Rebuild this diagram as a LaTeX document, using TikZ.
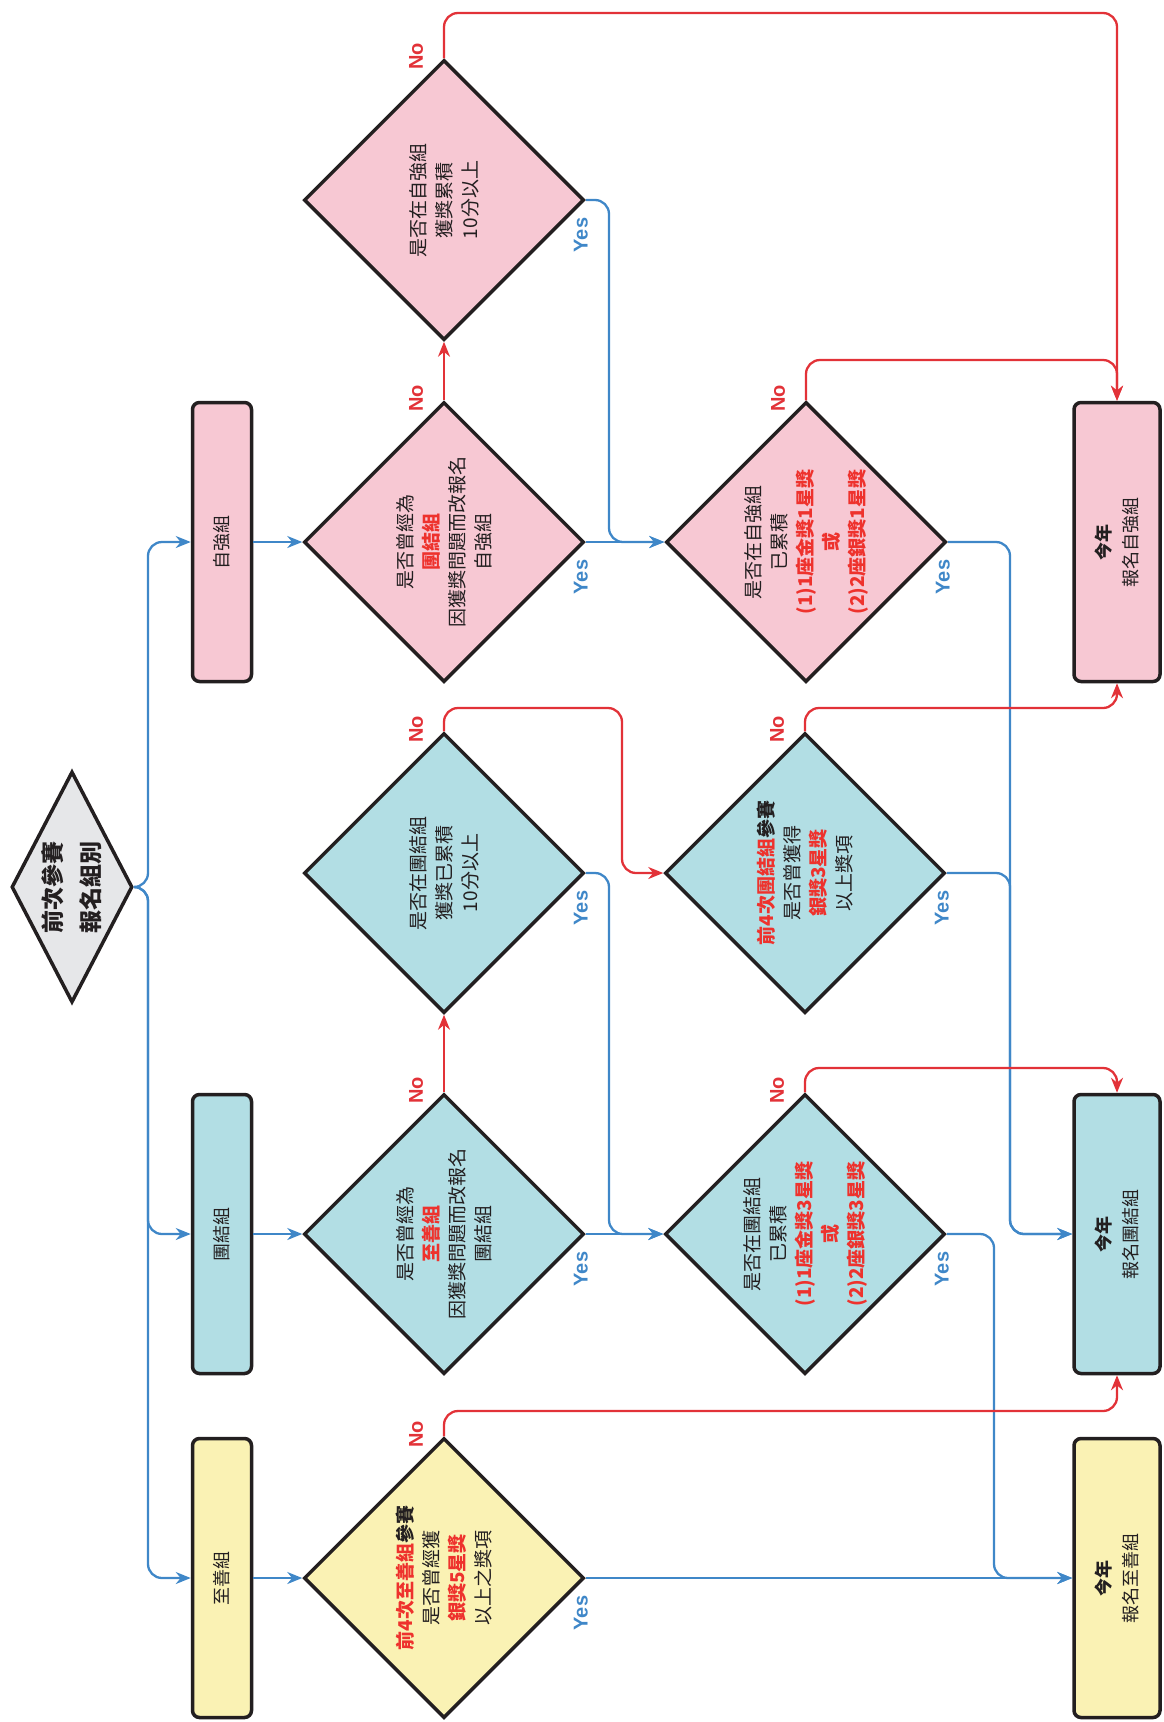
\documentclass[tikz,border=0pt]{standalone}
\usepackage{fontspec}
\setmainfont{Noto Sans CJK TC}
\newfontfamily\yesnofont{Liberation Sans}
\usetikzlibrary{shapes.geometric,arrows.meta}
\definecolor{zsfill}{RGB}{250,242,180}
\definecolor{tjfill}{RGB}{178,222,228}
\definecolor{zqfill}{RGB}{247,200,211}
\definecolor{startfill}{RGB}{230,231,233}
\definecolor{edgeblack}{RGB}{35,31,32}
\definecolor{yesblue}{RGB}{63,135,200}
\definecolor{nored}{RGB}{226,50,56}
\definecolor{hired}{RGB}{238,50,45}
\newcommand{\hl}[1]{{\bfseries\color{hired}#1}}
\tikzset{
  dec/.style={diamond, aspect=1, draw=edgeblack, line width=3.5pt, minimum width=280pt, minimum height=280pt, inner sep=0pt},
  startdec/.style={diamond, draw=edgeblack, line width=3.5pt, minimum width=121pt, minimum height=231pt, inner sep=0pt, fill=startfill},
  grpbox/.style={rectangle, rounded corners=7pt, draw=edgeblack, line width=3.5pt, minimum width=59pt, minimum height=279pt, inner sep=0pt},
  resbox/.style={rectangle, rounded corners=7pt, draw=edgeblack, line width=3.5pt, minimum width=86pt, minimum height=279pt, inner sep=0pt},
  txt/.style={rotate=90, align=center, text=edgeblack, font=\fontsize{19}{26}\selectfont},
  boxtxt/.style={rotate=90, align=center, text=edgeblack, font=\fontsize{18}{27}\selectfont},
  yesline/.style={draw=yesblue, line width=2.3pt, rounded corners=14pt},
  noline/.style={draw=nored, line width=2.3pt, rounded corners=14pt},
  arr/.style={-{Stealth[length=15pt,width=12pt]}},
  yeslab/.style={rotate=90, text=yesblue, font=\yesnofont\bfseries\fontsize{20}{20}\selectfont},
  nolab/.style={rotate=90, text=nored, font=\yesnofont\bfseries\fontsize{20}{20}\selectfont}
}
\begin{document}
\begin{tikzpicture}[x=1pt,y=-1pt]
\useasboundingbox (0,0) rectangle (1163,1722);
%%% The start node: group of the last contest
\node[startdec] (start) at (72,887) {};
\node[txt, font=\bfseries\fontsize{23}{38}\selectfont] (starttxt) at (start) {前次參賽\\報名組別};
%%%%%% The three groups of the last contest
\node[grpbox, fill=zsfill] (zsbox) at (222,1578) {};
\node[boxtxt] (zsboxtxt) at (zsbox) {至善組};
\node[grpbox, fill=tjfill] (tjbox) at (222,1234) {};
\node[boxtxt] (tjboxtxt) at (tjbox) {團結組};
\node[grpbox, fill=zqfill] (zqbox) at (222,542) {};
\node[boxtxt] (zqboxtxt) at (zqbox) {自強組};
%%%%%% The questions, first column
\node[dec, fill=zsfill] (zs1) at (444,1578) {};
\node[txt] (zs1txt) at (zs1) {\hl{前4次至善組}{\bfseries 參賽}\\是否曾經獲\\\hl{銀獎5星獎}\\以上之獎項};
\node[dec, fill=tjfill] (td1) at (444,1234) {};
\node[txt] (td1txt) at (td1) {是否曾經為\\\hl{至善組}\\因獲獎問題而改報名\\團結組};
\node[dec, fill=tjfill] (td2) at (444,873) {};
\node[txt] (td2txt) at (td2) {是否在團結組\\獲獎已累積\\10分以上};
\node[dec, fill=zqfill] (zq1) at (444,542) {};
\node[txt] (zq1txt) at (zq1) {是否曾經為\\\hl{團結組}\\因獲獎問題而改報名\\自強組};
\node[dec, fill=zqfill] (zq2) at (444,200) {};
\node[txt] (zq2txt) at (zq2) {是否在自強組\\獲獎累積\\10分以上};
%%%%%% The questions, second column
\node[dec, fill=tjfill] (td3) at (805,1234) {};
\node[txt] (td3txt) at (td3) {是否在團結組\\已累積\\\hl{(1)1座金獎3星獎}\\\hl{或}\\\hl{(2)2座銀獎3星獎}};
\node[dec, fill=tjfill] (td4) at (805,873) {};
\node[txt] (td4txt) at (td4) {\hl{前4次團結組}{\bfseries 參賽}\\是否曾獲得\\\hl{銀獎3星獎}\\以上獎項};
\node[dec, fill=zqfill] (zq3) at (806,542) {};
\node[txt] (zq3txt) at (zq3) {是否在自強組\\已累積\\\hl{(1)1座金獎1星獎}\\\hl{或}\\\hl{(2)2座銀獎1星獎}};
%%%%%% The results: group of this year
\node[resbox, fill=zsfill] (rzs) at (1117,1578) {};
\node[boxtxt] (rzstxt) at (rzs) {{\bfseries 今年}\\報名至善組};
\node[resbox, fill=tjfill] (rtd) at (1117,1234) {};
\node[boxtxt] (rtdtxt) at (rtd) {{\bfseries 今年}\\報名團結組};
\node[resbox, fill=zqfill] (rzq) at (1117,542) {};
\node[boxtxt] (rzqtxt) at (rzq) {{\bfseries 今年}\\報名自強組};
%%%%%% Bend points of the connectors
\coordinate (split) at (148,887);
\coordinate (zqyes) at (609,200);
\coordinate (tjyes) at (609,873);
\coordinate (upA) at (1010,542);
\coordinate (upB) at (1010,873);
\coordinate (zsyes) at (994,1234);
\coordinate (zq2up) at (444,13);
\coordinate (zq3up) at (806,360);
\coordinate (td4up) at (805,708);
\coordinate (td2up) at (444,708);
\coordinate (td2turn) at (622,708);
\coordinate (td3up) at (805,1068);
\coordinate (zs1up) at (444,1411);
%%%%%% The blue edges (Yes)
\draw[yesline, arr] (start.east) -- (split) |- (zqbox.west);
\draw[yesline, arr] (start.east) -- (split) |- (tjbox.west);
\draw[yesline, arr] (start.east) -- (split) |- (zsbox.west);
\draw[yesline, arr] (zsbox.east) -- (zs1.west);
\draw[yesline, arr] (tjbox.east) -- (td1.west);
\draw[yesline, arr] (zqbox.east) -- (zq1.west);
%
\draw[yesline, arr] (zs1.east) -- (rzs.west);
\draw[yesline, arr] (td1.east) -- (td3.west);
\draw[yesline, arr] (td2.east) -- (tjyes) |- (td3.west);
\draw[yesline, arr] (zq1.east) -- (zq3.west);
\draw[yesline, arr] (zq2.east) -- (zqyes) |- (zq3.west);
%
\draw[yesline, arr] (zq3.east) -- (upA) |- (rtd.west);
\draw[yesline, arr] (td4.east) -- (upB) |- (rtd.west);
\draw[yesline, arr] (td3.east) -- (zsyes) |- (rzs.west);
%%%%%% The red edges (No)
\draw[noline, arr] (zq1.north) -- (zq2.south);
\draw[noline, arr] (td1.north) -- (td2.south);
\draw[noline, arr] (zq2.north) -- (zq2up) -| (rzq.north);
\draw[noline, arr] (zq3.north) -- (zq3up) -| (rzq.north);
\draw[noline, arr] (td4.north) -- (td4up) -| (rzq.south);
\draw[noline, arr] (td2.north) -- (td2up) -- (td2turn) |- (td4.west);
\draw[noline, arr] (td3.north) -- (td3up) -| (rtd.north);
\draw[noline, arr] (zs1.north) -- (zs1up) -| (rtd.south);
%%%%%% The Yes / No labels
\foreach \d in {zs1,td1,td2,td3,td4,zq1,zq2,zq3}{
  \node[nolab] (\d no) at ([xshift=-28pt,yshift=2pt]\d.north) {No};
  \node[yeslab] (\d yes) at ([xshift=-5pt,yshift=-35pt]\d.east) {Yes};
}
\end{tikzpicture}
\end{document}
